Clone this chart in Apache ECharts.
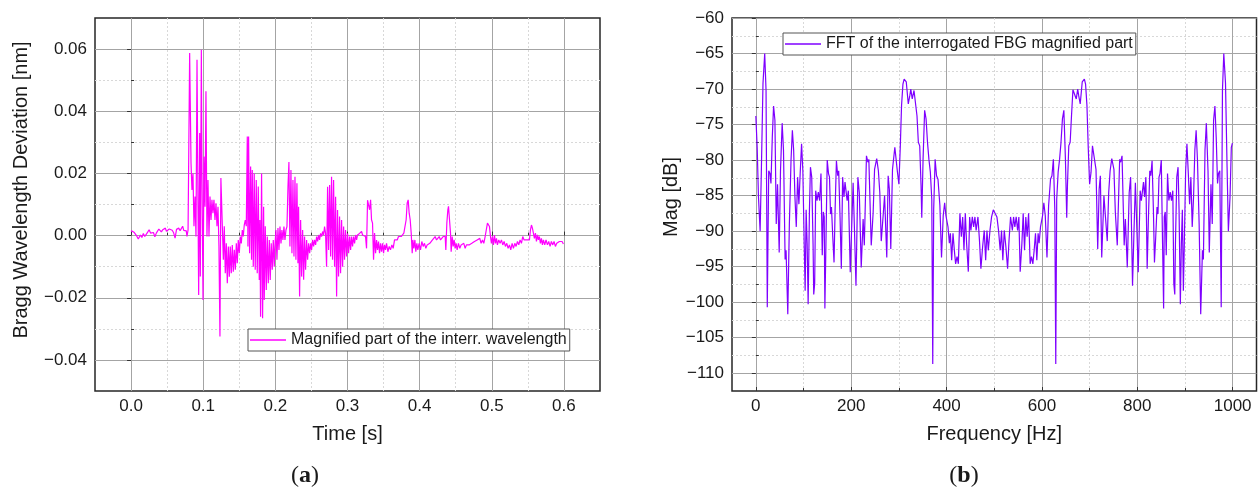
<!DOCTYPE html>
<html><head><meta charset="utf-8">
<script src="https://cdn.jsdelivr.net/npm/echarts@6/dist/echarts.min.js"></script>
<style>html,body{margin:0;padding:0;background:#fff}#c{width:1259px;height:488px}</style>
</head><body><div id="c"></div>
<script>
// ---------- data ----------
const timeTicks = [0, 0.1, 0.2, 0.3, 0.4, 0.5, 0.6];
const timeMinor = [0.05, 0.15, 0.25, 0.35, 0.45, 0.55];
const devTicks = [-0.04, -0.02, 0, 0.02, 0.04, 0.06];
const devMinor = [-0.03, -0.01, 0.01, 0.03, 0.05];
const freqTicks = [0, 200, 400, 600, 800, 1000];
const freqMinor = [100, 300, 500, 700, 900];
const magTicks = [-110, -105, -100, -95, -90, -85, -80, -75, -70, -65, -60];
const magMinor = [-107.5, -102.5, -97.5, -92.5, -87.5, -82.5, -77.5, -72.5, -67.5, -62.5];

const waveName = 'Magnified part of the interr. wavelength';
const fftName = 'FFT of the interrogated FBG magnified part';

// time [s], Bragg wavelength deviation [nm]
const waveform = [
[0,0.0016],[0.002,0.0014],[0.004,0.0011],[0.006,0.0006],[0.008,-0.0002],[0.010,-0.0011],[0.0115,-0.0016],[0.013,0.0002],[0.015,-0.0006],[0.017,0.0007],
[0.019,-0.0003],[0.021,0.0004],[0.023,0.0011],[0.025,0.0019],[0.027,0.0008],[0.029,0.0003],[0.031,0.0010],[0.033,-0.0004],[0.035,0.0008],[0.037,0.0013],
[0.0385,0.0021],[0.040,0.0016],[0.042,0.0012],[0.044,0.0019],[0.046,0.0015],[0.0475,0.0024],[0.049,0.0014],[0.051,0.0018],[0.053,0.0021],[0.055,0.0015],
[0.057,0.0017],[0.059,0.0009],[0.061,-0.0008],[0.063,0.0020],[0.066,0.0024],[0.068,0.0016],[0.070,0.0014],[0.0715,0.0030],[0.073,0.0017],[0.0745,0.0012],
[0.0765,0.0015],[0.0775,-0.0003],[0.079,0.0018],
[0.0812,0.0587],[0.0831,0.0233],[0.0844,0.0147],[0.0858,0.0200],[0.0872,0.0030],[0.0886,0.0126],[0.0900,-0.0003],[0.0914,0.0566],[0.0928,0.0093],[0.0937,-0.0191],
[0.0951,0.0330],[0.0960,-0.0132],[0.0974,0.0598],[0.0983,0.0200],[0.0997,-0.0207],[0.1011,0.0254],[0.1025,0.0093],[0.1038,0.0464],[0.1052,-0.0003],[0.1066,0.0179],
[0.1080,-0.0003],[0.1094,0.0126],[0.1108,0.0050],[0.1121,0.0115],[0.1135,0.0072],[0.1149,0.0115],[0.1163,0.0050],[0.1177,0.0104],[0.1191,0.0030],[0.1205,0.0093],
[0.1218,-0.0035],[0.1232,-0.0325],[0.1245,0.0185],[0.1265,0.0030],[0.1279,-0.0078],[0.1292,0.0030],[0.1306,-0.0121],[0.1320,-0.0025],[0.1334,-0.0153],[0.1348,-0.0035],
[0.1362,-0.0132],[0.1375,-0.0035],[0.1389,-0.0121],[0.1403,-0.0030],[0.1417,-0.0116],[0.1431,-0.0046],[0.1445,-0.0110],[0.1459,-0.0025],[0.1472,-0.0089],[0.1486,-0.0014],
[0.1500,-0.0057],[0.1514,-0.0003],[0.1528,-0.0025],[0.1542,0.0018],[0.1555,-0.0003],[0.1569,0.0034],[0.1583,0.0050],[0.1597,0.0030],[0.1611,0.0319],[0.1620,-0.0035],
[0.1629,0.0319],[0.1643,-0.0057],[0.1657,0.0222],[0.1670,-0.0078],[0.1680,0.0211],[0.1694,-0.0100],[0.1707,0.0200],[0.1721,-0.0110],[0.1735,0.0179],[0.1749,-0.0121],
[0.1763,0.0158],[0.1777,-0.0143],[0.1786,0.0050],[0.1795,-0.0261],[0.1809,0.0200],[0.1823,-0.0266],[0.1837,0.0093],[0.1846,-0.0207],[0.1860,0.0030],[0.1874,-0.0175],
[0.1888,-0.0003],[0.1902,-0.0153],[0.1916,-0.0014],[0.1929,-0.0143],[0.1943,-0.0025],[0.1957,-0.0110],[0.1971,-0.0014],[0.1985,-0.0100],
[0.1994,-0.0035],[0.2008,0.0018],[0.2022,-0.0078],[0.2036,0.0024],[0.2050,-0.0046],[0.2064,0.0029],[0.2078,-0.0025],[0.2091,0.0018],[0.2105,-0.0014],[0.2119,0.0029],
[0.2133,-0.0014],[0.2147,0.0018],[0.2161,0.0029],[0.2175,0.0157],[0.2188,0.0237],[0.2202,-0.0035],[0.2216,0.0211],[0.2230,-0.0057],[0.2244,0.0179],[0.2258,-0.0067],
[0.2272,0.0189],[0.2285,-0.0078],[0.2299,0.0168],[0.2313,-0.0089],[0.2322,0.0093],[0.2336,-0.0196],[0.2350,0.0050],[0.2364,-0.0132],[0.2378,0.0018],[0.2392,-0.0142],
[0.2405,-0.0003],[0.2419,-0.0110],[0.2433,-0.0014],[0.2447,-0.0078],[0.2461,-0.0025],[0.2475,-0.0057],[0.2489,-0.0025],[0.2502,-0.0046],[0.2516,-0.0014],[0.2530,-0.0035],
[0.2544,-0.0014],[0.2558,-0.0030],[0.2572,-0.0003],[0.2586,-0.0019],[0.2599,0.0002],[0.2613,-0.0014],[0.2627,0.0007],[0.2641,-0.0003],[0.2655,0.0013],[0.2669,0.0002],
[0.2682,0.0029],[0.2696,0.0007],[0.2710,-0.0100],[0.2724,0.0157],[0.2738,-0.0046],[0.2752,0.0163],[0.2766,-0.0067],[0.2779,0.0189],[0.2793,-0.0078],[0.2807,0.0179],
[0.2821,-0.0100],[0.2835,0.0125],[0.2849,-0.0196],[0.2862,0.0082],[0.2876,-0.0132],[0.2890,0.0061],[0.2904,-0.0121],[0.2918,0.0050],[0.2932,-0.0100],[0.2946,0.0029],
[0.2959,-0.0078],[0.2973,0.0018],[0.2987,-0.0067],[0.3001,0.0007],[0.3015,-0.0057],[0.3029,-0.0003],[0.3043,-0.0046],[0.3056,-0.0003],[0.3070,-0.0035],[0.3084,-0.0003],
[0.3098,-0.0025],[0.3112,0.0002],[0.3126,-0.0014],[0.3139,0.0002],[0.3153,-0.0003],[0.3167,0.0007],[0.3181,0.0002],[0.3195,0.0013],[0.3209,0.0002],[0.3223,0.0007],
[0.3236,0.0002],[0.3250,-0.0003],[0.3264,-0.0041],[0.3278,0.0114],
[0.3287,0.0120],[0.3306,0.0083],[0.3320,0.0115],[0.3333,0.0051],[0.3347,0.0040],[0.3361,-0.0078],[0.3375,0.0008],[0.3389,-0.0057],[0.3403,-0.0014],[0.3416,-0.0046],
[0.3430,-0.0019],[0.3444,-0.0057],[0.3458,-0.0025],[0.3472,-0.0052],[0.3486,-0.0025],[0.3500,-0.0057],[0.3513,-0.0030],[0.3527,-0.0046],[0.3541,-0.0025],[0.3560,-0.0052],
[0.3578,-0.0035],[0.3596,-0.0046],[0.3615,-0.0030],[0.3633,-0.0041],[0.3652,-0.0014],[0.3670,-0.0009],[0.3689,-0.0014],[0.3707,-0.0003],[0.3726,-0.0009],[0.3744,-0.0003],
[0.3763,0.0002],[0.3781,0.0008],[0.3800,0.0002],[0.3813,0.0051],[0.3827,0.0104],[0.3841,0.0115],[0.3855,0.0072],[0.3869,0.0051],[0.3883,0.0008],[0.3897,-0.0057],
[0.3906,-0.0014],[0.3920,-0.0041],[0.3934,-0.0014],[0.3947,-0.0052],[0.3961,-0.0025],[0.3975,-0.0046],[0.3993,-0.0025],[0.4012,-0.0046],[0.4030,-0.0019],[0.4049,-0.0035],
[0.4067,-0.0025],[0.4086,-0.0041],[0.4104,-0.0030],[0.4123,-0.0035],[0.4141,-0.0025],[0.4160,-0.0030],[0.4178,-0.0014],[0.4197,-0.0019],[0.4215,-0.0003],[0.4234,-0.0014],
[0.4252,-0.0009],[0.4271,-0.0003],[0.4289,-0.0014],[0.4307,-0.0009],[0.4326,-0.0003],[0.4340,-0.0009],[0.4354,-0.0003],[0.4363,-0.0046],[0.4377,0.0040],[0.4391,0.0083],
[0.4400,0.0094],[0.4414,0.0051],[0.4428,0.0008],[0.4437,-0.0052],[0.4451,-0.0003],[0.4465,-0.0035],[0.4478,-0.0014],[0.4492,-0.0041],[0.4506,-0.0025],[0.4520,-0.0046],
[0.4538,-0.0025],[0.4557,-0.0041],[0.4575,-0.0030],[0.4594,-0.0035],[0.4612,-0.0025],[0.4631,-0.0041],[0.4649,-0.0030],[0.4668,-0.0035],[0.4686,-0.0030],[0.4705,-0.0035],
[0.4723,-0.0025],[0.4742,-0.0030],[0.4760,-0.0019],[0.4778,-0.0025],[0.4797,-0.0014],[0.4815,-0.0019],[0.4834,-0.0009],[0.4852,-0.0025],[0.4871,-0.0014],[0.4889,-0.0025],
[0.4908,-0.0003],[0.4926,-0.0009],[0.4940,0.0040],[0.4954,0.0045],[0.4968,0.0029],[0.4982,-0.0003],[0.4995,-0.0025],[0.5009,-0.0003],[0.5023,-0.0030],[0.5037,0.0002],
[0.5051,-0.0025],[0.5065,-0.0009],[0.5078,-0.0030],[0.5097,-0.0014],[0.5115,-0.0025],[0.5134,-0.0014],[0.5152,-0.0030],[0.5171,-0.0019],[0.5189,-0.0035],[0.5208,-0.0025],
[0.5226,-0.0041],[0.5245,-0.0030],[0.5263,-0.0046],[0.5282,-0.0025],[0.5300,-0.0041],[0.5319,-0.0025],[0.5337,-0.0035],[0.5356,-0.0019],[0.5374,-0.0030],[0.5392,-0.0014],
[0.5411,-0.0025],[0.5429,-0.0003],[0.5448,-0.0014],[0.5466,-0.0009],[0.5485,-0.0014],[0.5503,-0.0009],[0.5522,-0.0014],[0.5536,0.0018],[0.5550,0.0034],[0.5563,0.0024],
[0.5577,0.0008],[0.5591,-0.0009],[0.5605,0.0008],[0.5619,-0.0019],[0.5633,0.0002],[0.5646,-0.0014],[0.5660,-0.0003],[0.5674,-0.0025],[0.5688,-0.0009],[0.5702,-0.0030],
[0.5716,-0.0014],[0.5734,-0.0030],[0.5752,-0.0014],[0.5771,-0.0030],[0.5789,-0.0019],[0.5808,-0.0035],[0.5826,-0.0019],[0.5845,-0.0030],[0.5863,-0.0019],[0.5882,-0.0035],
[0.5900,-0.0025],[0.5919,-0.0030],[0.5937,-0.0019],[0.5956,-0.0025],[0.5974,-0.0019],[0.5993,-0.0027]
];

// frequency [Hz], magnitude [dB] : 0 .. 500 Hz
const fftLow = [
[0,-73.8],[2.8,-78.2],[5.5,-85.2],[9,-90],[11.7,-81],[15,-69.2],[18.6,-65],[21.4,-70.2],[24,-100.7],[27,-81.5],
[29.7,-81.9],[31.7,-83.3],[34.5,-76.8],[37.2,-72.4],[40,-74.4],[42.8,-89],[45.5,-83.4],[49,-93],[51.7,-81.5],[55.2,-74.8],
[58,-78.6],[61.4,-94],[63.4,-92.7],[67,-101.7],[70.3,-89],[73.8,-80],[76.6,-75.8],[79.3,-78.6],[82,-85.2],[84.8,-89.4],
[87.6,-82.4],[90.3,-86.2],[93,-81.9],[95.9,-77.7],[98.6,-81.5],[101.4,-91.8],[103.4,-98.4],[105.5,-87],[107.6,-91.8],[109.7,-100.3],
[112.4,-87.1],[114.5,-81],[117.2,-82.4],[120,-91.8],[121.4,-98.9],[123.4,-97.4],[125.5,-84.3],[128.3,-85.7],[131,-84.5],[133.8,-85.7],
[136.6,-81.9],[139.3,-93.4],[141.4,-87.3],[143.4,-88],[144.8,-100.9],[147,-91.8],[149.7,-80],[152.4,-81.9],[154.5,-82.4],[156.6,-87.6],
[158.6,-86.6],[161.4,-90.9],[164,-94.4],[166.2,-87.1],[169,-80.1],[171.7,-82.2],[173.8,-81.5],[176.6,-88],[179.3,-95.3],[182,-82.4],
[184.8,-85.2],[187,-83.1],[191.5,-85.7],[194,-84.3],[198,-95.8],[204,-83.2],[207,-90.2],[210,-97.7],[214,-82.4],[217,-84.6],
[221,-95.1],[225,-88.3],[227.5,-92],[232,-79.4],[235,-80.3],[237,-79.9],[242,-92],[246,-87.4],[249,-81.3],[253.5,-79.8],
[257,-81.5],[260,-84.6],[263,-91.4],[267,-87.8],[270,-85],[274.6,-93.7],[277.5,-82.2],[280,-84.1],[283,-92.5],[286.6,-81.3],
[291.5,-78.2],[294,-78],[297,-81.7],[300,-83.4],[303,-78],[305.6,-72.3],[308.5,-69.3],[311,-68.6],[315.5,-69],[319.7,-72.1],
[323,-70.9],[325,-70],[328,-71.4],[331.7,-70.2],[335,-70.1],[338,-73.8],[340.8,-77.5],[343.7,-78],[346.5,-83.6],[348,-88.1],
[350.7,-79.9],[354,-73],[357,-74.2],[360,-77.5],[363,-79.9],[366,-81.7],[369,-85.5],[371,-108.7],[373,-86.9],[376,-79.9],
[379,-82.2],[382,-82.7],[386,-86.4],[389.4,-93.7],[393,-87.8],[396,-86],[398.6,-87.8],[403,-89.4],[405.9,-91.7],[408,-90.3],
[410.7,-94.1],[413.5,-90.3],[416.3,-92.7],[419,-94.6],[422,-93.6],[424.7,-94.6],[428,-87.5],[431,-90.8],[433.8,-88],[436.5,-92.7],
[439.3,-87.5],[442,-91.7],[445.6,-95.7],[448.4,-88],[451,-89.9],[454,-88],[456.8,-89.4],[459.5,-88],[462,-89.9],[465.8,-88],
[469,-91.3],[472,-95.3],[475.6,-92.2],[479,-89.9],[482,-94.1],[484.7,-89.9],[487.5,-92.7],[491,-89.9],[494.4,-88],[498,-87],
[500,-86.8]
];
// 500 .. 1000 Hz
const fftHigh = [
[502,-87],[505.6,-88],[509,-89.9],[512.5,-92.7],[515.3,-89.9],[518,-94.1],[521,-89.9],[524.4,-92.2],[528,-95.3],[531,-91.3],
[534.2,-88],[538,-89.9],[540.5,-88],[543.2,-89.4],[546,-88],[549,-89.9],[551.6,-88],[554.4,-95.7],[558,-91.7],[560.7,-87.5],
[563.5,-92.7],[566.2,-88],[569,-90.8],[572,-87.5],[575.3,-94.6],[578,-93.6],[581,-94.6],[583.7,-92.7],[586.5,-90.3],[589.3,-94.1],
[592,-90.3],[594.1,-91.7],[597,-89.4],[601.4,-87.8],[604,-86],[607,-87.8],[610.6,-93.7],[614,-86.4],[618,-82.7],[621,-82.2],
[624,-79.9],[627,-86.9],[629,-108.7],[631,-85.5],[634,-81.7],[637,-79.9],[640,-77.5],[643,-74.2],[646,-73],[649.3,-79.9],
[652,-88.1],[653.5,-83.6],[656.3,-78],[659.2,-77.5],[662,-73.8],[665,-70.1],[668.3,-70.2],[672,-71.4],[675,-70],[677,-70.9],
[680.3,-72.1],[684.5,-69],[689,-68.6],[691.5,-69.3],[694.4,-72.3],[697,-78],[700,-83.4],[703,-81.7],[706,-78],[708.5,-78.2],
[713.4,-81.3],[717,-92.5],[720,-84.1],[722.5,-82.2],[725.4,-93.7],[730,-85],[733,-87.8],[737,-91.4],[740,-84.6],[743,-81.5],
[746.5,-79.8],[751,-81.3],[754,-87.4],[758,-92],[763,-79.9],[765,-80.3],[768,-79.4],[772.5,-92],[775,-88.3],[779,-95.1],
[783,-84.6],[786,-82.4],[790,-97.7],[793,-90.2],[796,-83.2],[802,-95.8],[806,-84.3],[808.5,-85.7],[813,-83.1],[815.2,-85.2],
[818,-82.4],[820.7,-95.3],[823.4,-88],[826.2,-81.5],[828.3,-82.2],[831,-80.1],[833.8,-87.1],[836,-94.4],[838.6,-90.9],[841.4,-86.6],
[843.4,-87.6],[845.5,-82.4],[847.6,-81.9],[850.3,-80],[853,-91.8],[855.2,-100.9],[856.6,-88],[858.6,-87.3],[860.7,-93.4],[863.4,-81.9],
[866.2,-85.7],[869,-84.5],[871.7,-85.7],[874.5,-84.3],[876.6,-97.4],[878.6,-98.9],[880,-91.8],[882.8,-82.4],[885.5,-81],[887.6,-87.1],
[890.3,-100.3],[892.4,-91.8],[894.5,-87],[896.6,-98.4],[898.6,-91.8],[901.4,-81.5],[904.1,-77.7],[907,-81.9],[909.7,-86.2],[912.4,-82.4],
[915.2,-89.4],[918,-85.2],[920.7,-78.6],[923.4,-75.8],[926.2,-80],[929.7,-89],[933,-101.7],[936.6,-92.7],[938.6,-94],[942,-78.6],
[944.8,-74.8],[948.3,-81.5],[951,-93],[954.5,-83.4],[957.2,-89],[960,-74.4],[962.8,-72.4],[965.5,-76.8],[968.3,-83.3],[970.3,-81.9],
[973,-81.5],[976,-100.7],[978.6,-70.2],[981.4,-65],[985,-69.2],[988.3,-81],[991,-90],[994.5,-85.2],[997.2,-78.2],[999.5,-77.6]
];

// ---------- style ----------
const FONT = '"Liberation Sans", Arial, sans-serif';
const SERIF = '"Liberation Serif", "DejaVu Serif", serif';
const TXT = '#1a1a1a';
const MAJOR = '#a4a4a4';
const MINOR = '#d8d8d8';
const TICK = '#333';
const neg = s => s.replace('-', '\u2212');

function axisPair(dim, grid, min, max, major, minor, fmt, name, gap, pad) {
  const base = {
    gridIndex: grid, type: 'value', min: min, max: max,
    position: dim === 'x' ? 'bottom' : 'left',
    axisLine: { show: false },
    silent: true
  };
  const a = Object.assign({}, base, {
    name: name, nameLocation: 'middle', nameGap: gap,
    nameTextStyle: { fontSize: 20, fontFamily: FONT, color: TXT, padding: pad || 0 },
    axisTick: { show: true, inside: dim === 'x', length: 4, customValues: major, lineStyle: { color: TICK, width: 1 } },
    axisLabel: { show: true, customValues: major, formatter: fmt, fontSize: 17, fontFamily: FONT, color: TXT, margin: dim === 'x' ? 7 : 8 },
    splitLine: { show: true, lineStyle: { color: MAJOR, width: 1, type: 'solid' } }
  });
  const b = Object.assign({}, base, {
    axisTick: { show: true, inside: true, length: 3, customValues: minor, lineStyle: { color: TICK, width: 1 } },
    axisLabel: { show: false, customValues: minor },
    splitLine: { show: true, lineStyle: { color: MINOR, width: 1, type: [2, 2] } }
  });
  return [a, b];
}

const chart = echarts.init(document.getElementById('c'), null, { renderer: 'canvas' });

const xAxes = []
  .concat(axisPair('x', 0, -0.05, 0.65, timeTicks, timeMinor, v => v.toFixed(1), 'Time [s]', 33))
  .concat(axisPair('x', 1, -50, 1050, freqTicks, freqMinor, v => String(Math.round(v)), 'Frequency [Hz]', 33));
const yAxes = []
  .concat(axisPair('y', 0, -0.05, 0.07, devTicks, devMinor, v => neg(v.toFixed(2)), 'Bragg Wavelength Deviation [nm]', 64, [0, 0, 0, 29]))
  .concat(axisPair('y', 1, -112.5, -60, magTicks, magMinor, v => neg(String(Math.round(v))), 'Mag [dB]', 43, [0, 0, 0, 15]));

const legendBase = {
  orient: 'horizontal', icon: 'rect', itemWidth: 36, itemHeight: 1.3, itemGap: 0,
  padding: [3, 3, 3, 2], borderColor: '#555', borderWidth: 1, borderRadius: 0,
  backgroundColor: '#fff', selectedMode: false,
  textStyle: { fontSize: 16, fontFamily: FONT, color: TXT, padding: [0, 0, 0, 0] }
};

chart.setOption({
  animation: false,
  backgroundColor: '#fff',
  grid: [
    { left: 95, right: 659, top: 18, bottom: 97, show: true, borderColor: '#262626', borderWidth: 1.5, backgroundColor: 'transparent' },
    { left: 732, right: 2.5, top: 18, bottom: 97, show: true, borderColor: '#262626', borderWidth: 1.5, backgroundColor: 'transparent' }
  ],
  xAxis: xAxes,
  yAxis: yAxes,
  legend: [
    Object.assign({}, legendBase, { left: 248, top: 329, data: [waveName] }),
    Object.assign({}, legendBase, { left: 783, top: 33, data: [fftName] })
  ],
  series: [
    { name: waveName, type: 'line', xAxisIndex: 0, yAxisIndex: 0, data: waveform,
      symbol: 'none', showSymbol: false, sampling: null, silent: true,
      lineStyle: { color: '#ff00ff', width: 1.2 }, itemStyle: { color: '#ff00ff' }, z: 5 },
    { name: fftName, type: 'line', xAxisIndex: 2, yAxisIndex: 2, data: fftLow.concat(fftHigh),
      symbol: 'none', showSymbol: false, sampling: null, silent: true,
      lineStyle: { color: '#7f00ff', width: 1.2 }, itemStyle: { color: '#7f00ff' }, z: 5 }
  ],
  graphic: [
    { type: 'text', x: 305, y: 476, silent: true,
      style: { text: '{p|(}{b|a}{p|)}', align: 'center', verticalAlign: 'middle',
        rich: { p: { fontFamily: SERIF, fontSize: 24, fill: TXT }, b: { fontFamily: SERIF, fontSize: 24, fontWeight: 'bold', fill: TXT } } } },
    { type: 'text', x: 964, y: 476, silent: true,
      style: { text: '{p|(}{b|b}{p|)}', align: 'center', verticalAlign: 'middle',
        rich: { p: { fontFamily: SERIF, fontSize: 24, fill: TXT }, b: { fontFamily: SERIF, fontSize: 24, fontWeight: 'bold', fill: TXT } } } }
  ]
});
</script></body></html>
